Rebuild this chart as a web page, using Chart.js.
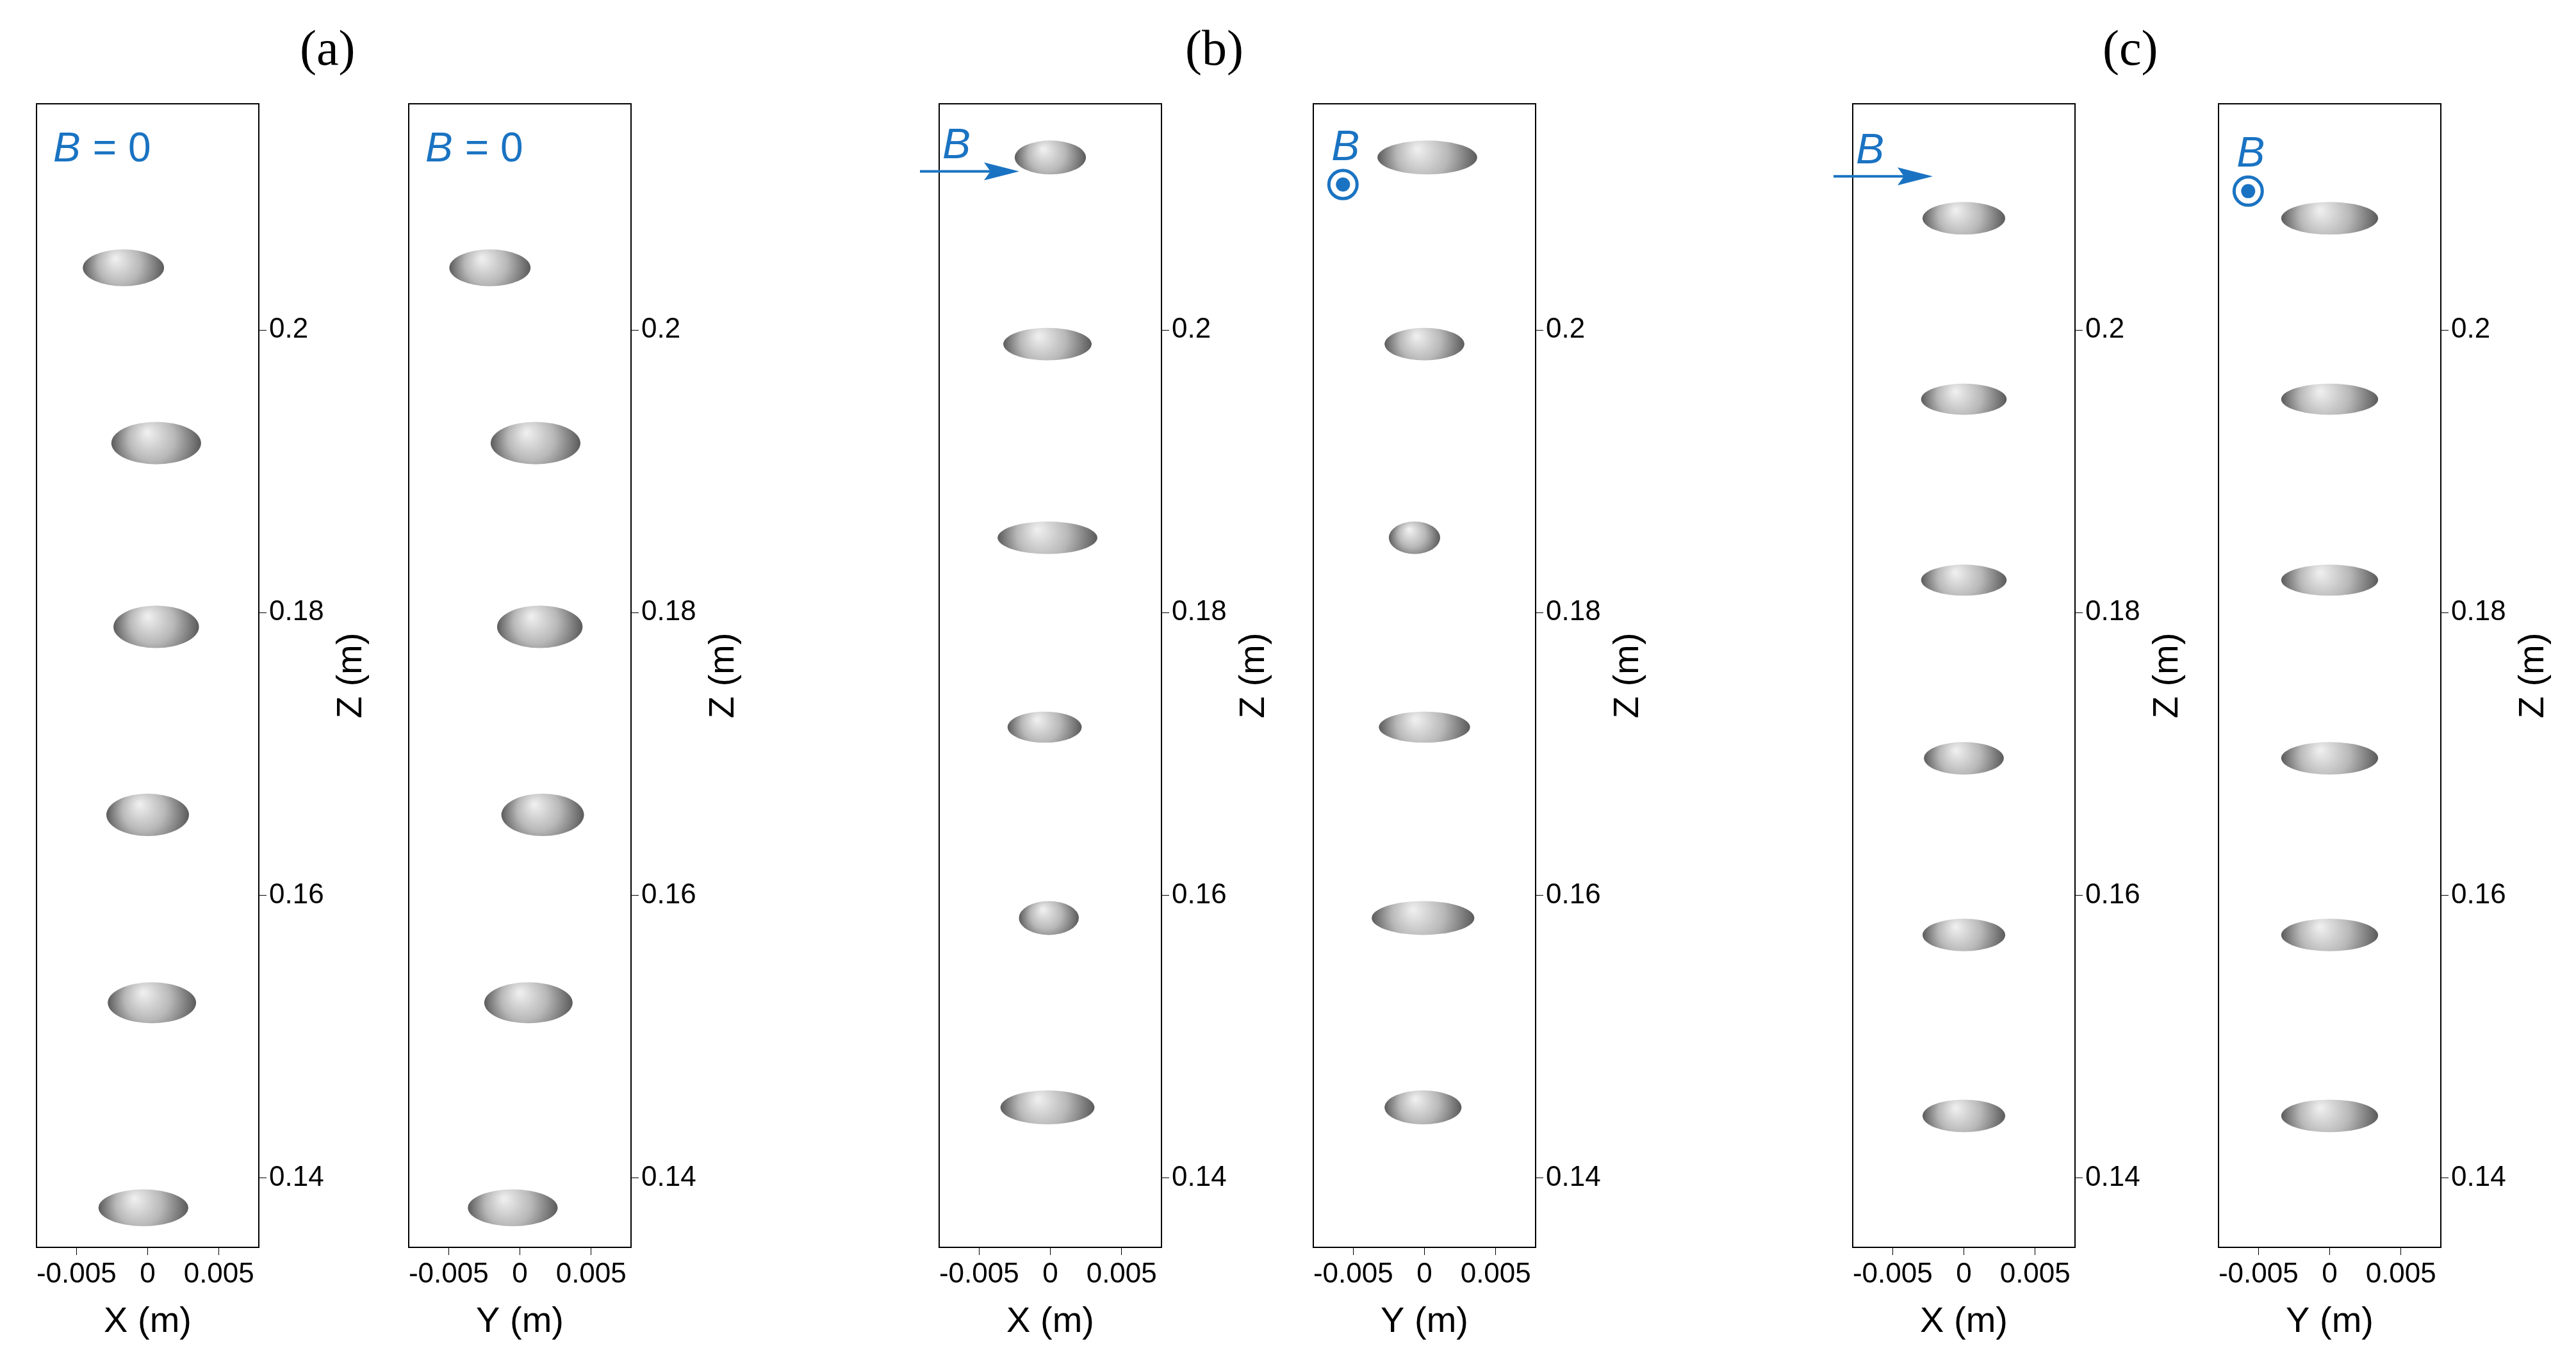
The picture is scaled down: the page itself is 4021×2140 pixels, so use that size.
<!DOCTYPE html>
<html><head><meta charset="utf-8">
<script src="https://cdn.jsdelivr.net/npm/chart.js@4"></script>
<style>
body{margin:0;background:#fff;width:4021px;height:2140px;position:relative;overflow:hidden}
canvas{position:absolute}
.lab{position:absolute;font-family:'Liberation Serif',serif;font-size:78px;color:#000}
</style></head><body>
<div class="lab" style="left:468px;top:30px">(a)</div>
<div class="lab" style="left:1850px;top:30px">(b)</div>
<div class="lab" style="left:3282px;top:30px">(c)</div>
<script>
// ─── DATA (metres) ───
const X_TICKS = [-0.005, 0, 0.005];
const Z_TICKS = [0.14, 0.16, 0.18, 0.2];
const X_RANGE = [-0.0078, 0.0078];
const Z_RANGE = [0.1351, 0.2160];

// bubble centres per panel: horizontal coordinate, vertical Z
const A_X_H = [-0.0017, 0.0006, 0.0006, 0.0000, 0.0003, -0.0003];
const A_Y_H = [-0.0021, 0.0011, 0.0014, 0.0016, 0.0006, -0.0005];
const A_Z   = [0.2044, 0.1920, 0.1790, 0.1657, 0.1524, 0.1379];
const A_W   = [0.0057, 0.0063, 0.0060, 0.0058, 0.0062, 0.0063];
const A_H   = [0.0026, 0.0030, 0.0030, 0.0030, 0.0029, 0.0026];

const B_X_H = [0.0000, -0.0002, -0.0002, -0.0004, -0.0001, -0.0002];
const B_Y_H = [0.0002, 0.0000, -0.0007, 0.0000, -0.0001, -0.0001];
const B_Z   = [0.2122, 0.1990, 0.1853, 0.1719, 0.1584, 0.1450];
const B_XW  = [0.0050, 0.0062, 0.0070, 0.0052, 0.0042, 0.0066];
const B_YW  = [0.0070, 0.0056, 0.0036, 0.0064, 0.0072, 0.0054];
const B_HH  = [0.0024, 0.0023, 0.0023, 0.0022, 0.0024, 0.0024];

const C_H   = [0, 0, 0, 0, 0, 0];
const C_Z   = [0.2079, 0.1951, 0.1823, 0.1697, 0.1572, 0.1444];
const C_XW  = [0.0058, 0.0060, 0.0060, 0.0056, 0.0058, 0.0058];
const C_YW  = [0.0068, 0.0068, 0.0068, 0.0068, 0.0068, 0.0068];
const C_HH  = [0.0023, 0.0022, 0.0022, 0.0023, 0.0023, 0.0023];

const S = 4021 / 1563;
const BLUE = '#1a73c2';
const PAD = 40, YW = 175, XH = 150;

function pts(h, z, w, hh) {
  return h.map((v, i) => ({ x: v, y: z[i], w: w[i], h: hh[i] }));
}

// ─── ELLIPSE + FRAME + ANNOTATION PLUGIN ───
const bubbles = {
  id: 'bubbles',
  afterDatasetsDraw(chart) {
    const c = chart.ctx, xs = chart.scales.x, ys = chart.scales.y, a = chart.chartArea;
    chart.data.datasets[0].data.forEach(p => {
      const cx = xs.getPixelForValue(p.x), cy = ys.getPixelForValue(p.y);
      const rx = Math.abs(xs.getPixelForValue(p.x + p.w / 2) - cx);
      const ry = Math.abs(ys.getPixelForValue(p.y + p.h / 2) - cy);
      const g = c.createRadialGradient(cx - rx * 0.2, cy - ry * 0.5, 2, cx, cy, rx);
      g.addColorStop(0, '#eeeeee'); g.addColorStop(0.5, '#b8b8b8'); g.addColorStop(1, '#5a5a5a');
      c.save(); c.beginPath(); c.ellipse(cx, cy, rx, ry, 0, 0, Math.PI * 2);
      c.fillStyle = g; c.fill(); c.restore();
    });
    c.save(); c.strokeStyle = '#000'; c.lineWidth = 2;
    c.strokeRect(a.left, a.top, a.right - a.left, a.bottom - a.top);
    // Z axis title, reading bottom to top
    c.save(); c.translate(a.right + 145, (a.top + a.bottom) / 2); c.rotate(-Math.PI / 2);
    c.fillStyle = '#000'; c.font = '56px "Liberation Sans"'; c.textAlign = 'center'; c.textBaseline = 'middle';
    c.fillText('Z (m)', 0, 0); c.restore();
    const an = chart.options.plugins.bubbles || {};
    c.fillStyle = BLUE; c.strokeStyle = BLUE;
    if (an.b0) {
      c.font = 'italic 64px "Liberation Sans"'; c.textBaseline = 'middle';
      c.fillText('B', a.left + 26, a.top + 72);
      c.font = '64px "Liberation Sans"'; c.fillText(' = 0', a.left + 70, a.top + 72);
    }
    if (an.arrow) {
      const y = a.top + an.arrow * S;
      c.lineWidth = 4; c.beginPath(); c.moveTo(a.left - 30, y); c.lineTo(a.left + 90, y); c.stroke();
      c.beginPath(); c.moveTo(a.left + 125, y); c.lineTo(a.left + 70, y - 14); c.lineTo(a.left + 80, y); c.lineTo(a.left + 70, y + 14); c.fill();
      c.font = 'italic 66px "Liberation Sans"'; c.textBaseline = 'alphabetic';
      c.fillText('B', a.left + 5, y - 20);
    }
    if (an.dot) {
      const x = a.left + 18 * S, y = a.top + an.dot * S;
      c.lineWidth = 5; c.beginPath(); c.arc(x, y, 22, 0, Math.PI * 2); c.stroke();
      c.beginPath(); c.arc(x, y, 11, 0, Math.PI * 2); c.fill();
      c.font = 'italic 66px "Liberation Sans"'; c.textBaseline = 'alphabetic';
      c.fillText('B', x - 18, y - 38);
    }
    c.restore();
  }
};

function build(left, top, title, data, ann) {
  const cv = document.createElement('canvas');
  const w = Math.round(135 * S) + PAD + YW, h = Math.round(694 * S) + PAD + XH;
  cv.width = w; cv.height = h;
  cv.style.left = Math.round(left * S - PAD) + 'px';
  cv.style.top = Math.round(top * S - PAD) + 'px';
  document.body.appendChild(cv);
  const font = { family: '"Liberation Sans", sans-serif', size: 44 };
  new Chart(cv, {
    type: 'scatter',
    data: { datasets: [{ data, pointRadius: 0, pointHoverRadius: 0 }] },
    plugins: [bubbles],
    options: {
      responsive: false, animation: false, devicePixelRatio: 1,
      layout: { padding: { left: PAD, top: PAD, right: 0, bottom: 0 } },
      plugins: { legend: { display: false }, tooltip: { enabled: false }, bubbles: ann },
      scales: {
        x: {
          min: X_RANGE[0], max: X_RANGE[1],
          afterBuildTicks: s => { s.ticks = X_TICKS.map(v => ({ value: v })); },
          afterFit: s => { s.height = XH; },
          ticks: { color: '#000', font, maxRotation: 0, padding: 4, callback: v => String(v) },
          grid: { drawOnChartArea: false, color: '#000', tickLength: 12 },
          border: { color: '#000', width: 2 },
          title: { display: true, text: title, color: '#000', font: { ...font, size: 56 }, padding: 0 },
        },
        y: {
          position: 'right', min: Z_RANGE[0], max: Z_RANGE[1],
          afterBuildTicks: s => { s.ticks = Z_TICKS.map(v => ({ value: v })); },
          afterFit: s => { s.width = YW; },
          ticks: { color: '#000', font, padding: 4, callback: v => String(v) },
          grid: { drawOnChartArea: false, color: '#000', tickLength: 12 },
          border: { color: '#000', width: 2 },
          title: { display: false },
        },
      },
    },
  });
}

build(22, 63, 'X (m)', pts(A_X_H, A_Z, A_W, A_H), { b0: true });
build(248, 63, 'Y (m)', pts(A_Y_H, A_Z, A_W, A_H), { b0: true });
build(570, 63, 'X (m)', pts(B_X_H, B_Z, B_XW, B_HH), { arrow: 41 });
build(797, 63, 'Y (m)', pts(B_Y_H, B_Z, B_YW, B_HH), { dot: 49 });
build(1124, 63, 'X (m)', pts(C_H, C_Z, C_XW, C_HH), { arrow: 44 });
build(1346, 63, 'Y (m)', pts(C_H, C_Z, C_YW, C_HH), { dot: 53 });
</script></body></html>
